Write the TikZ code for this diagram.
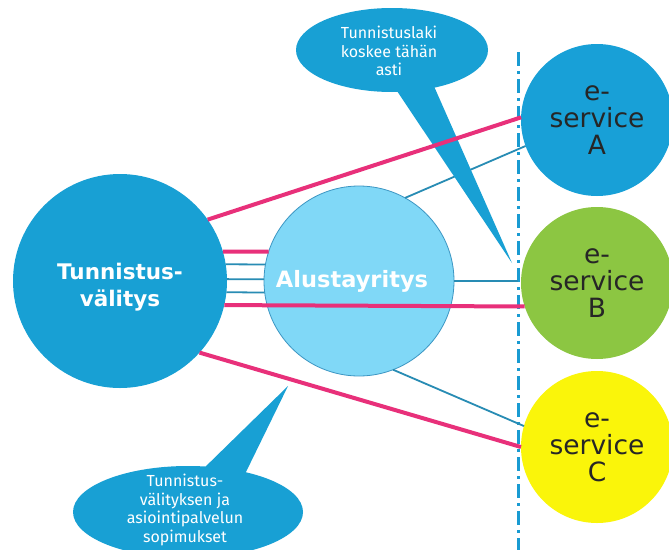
\documentclass[tikz,border=0pt]{standalone}
\usepackage{fontspec}
\setmainfont{DejaVu Sans}
\newfontfamily\calloutfont{Fira Sans}
\definecolor{mainblue}{RGB}{24,160,212}
\definecolor{lightblue}{RGB}{128,216,247}
\definecolor{albord}{RGB}{60,150,195}
\definecolor{eblue}{RGB}{24,160,215}
\definecolor{egreen}{RGB}{140,198,66}
\definecolor{eyellow}{RGB}{250,245,10}
\definecolor{pinkc}{RGB}{232,48,122}
\definecolor{tealc}{RGB}{40,140,180}
\definecolor{dashc}{RGB}{25,155,210}
\begin{document}
\begin{tikzpicture}[x=1pt,y=-1pt,
  bigcirc/.style={circle, inner sep=0pt, outer sep=0pt},
  pinkline/.style={draw=pinkc, line width=4pt},
  tealline/.style={draw=tealc, line width=1.8pt},
  etext/.style={align=center, text=black!85, font=\fontsize{26.5}{27}\selectfont},
  bubtext/.style={align=center, text=white, font=\calloutfont\fontsize{16}{18.5}\selectfont},
  bubble/.style={fill=mainblue}
  ]
\useasboundingbox (0,0) rectangle (669,549);
\fill[white] (0,0) rectangle (669,549);

% circles
\node[bigcirc, fill=mainblue, minimum size=214pt] (tv) at (120,281) {};
\node[bigcirc, fill=lightblue, draw=albord, line width=0.8pt, minimum size=190pt] (al) at (359,281) {};
\node[bigcirc, fill=eblue, minimum size=152pt, etext] (ea) at (597,120) {e-\\service\\A};
\node[bigcirc, fill=egreen, minimum size=152pt, etext] (eb) at (597,283) {e-\\service\\B};
\node[bigcirc, fill=eyellow, minimum size=152pt, etext] (ec) at (597,447) {e-\\service\\C};

\node[align=center, text=white, font=\bfseries\fontsize{21.5}{27}\selectfont] (tvtext) at (120,287) {Tunnistus-\\välitys};
\node[text=white, font=\bfseries\fontsize{22.5}{27}\selectfont] (altext) at (352,281) {Alustayritys};

% dash-dot boundary
\coordinate (dtop) at (518,52);
\coordinate (dbot) at (518,552);
\coordinate (dmid) at (518,281);
\draw[dashc, line width=3pt, dash pattern=on 14pt off 5pt on 3pt off 5pt] (dtop) -- (dbot);

% teal lines
\draw[tealline] (tv.9) -- (al.170);
\draw[tealline] (tv.1) -- (al.179);
\draw[tealline] (tv.354) -- (al.187);
\draw[tealline] (al.61) -- (ea.200);
\draw[tealline] (al.0) -- (dmid);
\draw[tealline] (al.291) -- (ec.164);

% callouts
\coordinate (tipA) at (512,263);
\fill[bubble] (395,88) -- (tipA) -- (433,84) -- cycle;
\fill[bubble] (392,50) ellipse [x radius=96, y radius=42];
\node[bubtext] (callA) at (389,51) {Tunnistuslaki\\koskee tähän\\asti};

\coordinate (tipB) at (288,386);
\fill[bubble] (200,472) -- (tipB) -- (245,474) -- cycle;
\fill[bubble] (188,512) ellipse [x radius=115, y radius=46];
\node[bubtext] (callB) at (185,510) {Tunnistus-\\välityksen ja\\asiointipalvelun\\sopimukset};

% pink lines
\draw[pinkline] (tv.35) -- (ea.178);
\draw[pinkline] (tv.16) -- (al.162);
\draw[pinkline] (tv.347) -- (eb.198);
\draw[pinkline] (tv.318) -- (ec.180);
\end{tikzpicture}
\end{document}
